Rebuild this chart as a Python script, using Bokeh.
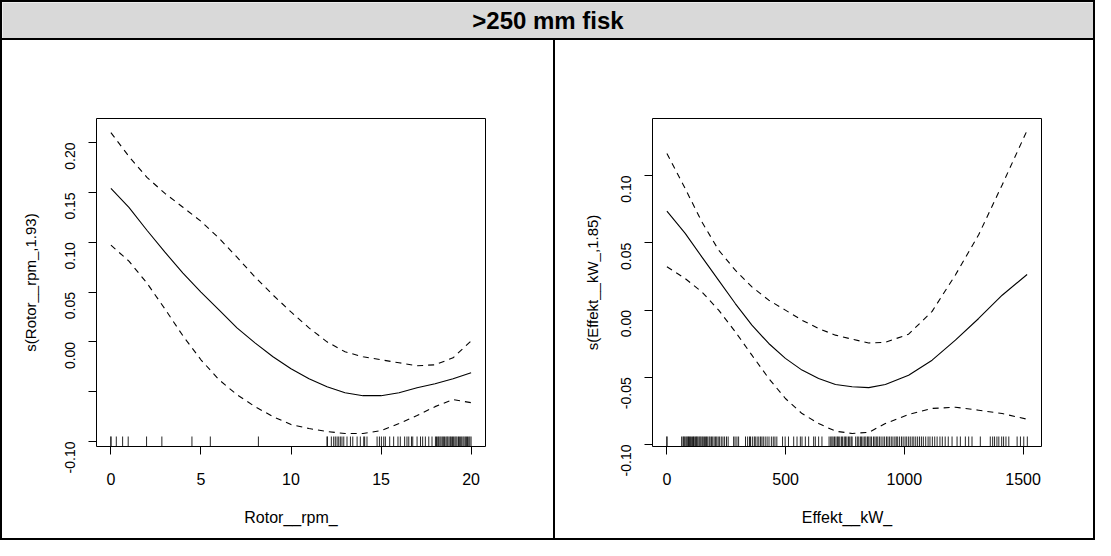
import math
from bokeh.plotting import figure
from bokeh.models import Range1d, FixedTicker, NumeralTickFormatter, Div
from bokeh.layouts import column, row
from bokeh.embed import file_html
from bokeh.resources import INLINE
from bokeh.core.properties import value

FONT = "Liberation Sans"

title_text = ">250 mm fisk"

# ---- left panel: Rotor__rpm_ ----
rotor_label_x = "Rotor__rpm_"
rotor_label_y = "s(Rotor__rpm_,1.93)"
rotor_x = [0, 1, 2, 3, 4, 5, 6, 7, 8, 9, 10, 11, 12, 13, 14, 15, 16, 17, 18, 19, 20]
rotor_fit = [0.154, 0.135, 0.112, 0.090, 0.069, 0.050, 0.032, 0.014, -0.001, -0.015,
             -0.027, -0.037, -0.045, -0.051, -0.054, -0.054, -0.051, -0.046, -0.042,
             -0.037, -0.031]
rotor_upper = [0.210, 0.186, 0.165, 0.149, 0.135, 0.121, 0.104, 0.085, 0.065, 0.047,
               0.030, 0.014, 0.000, -0.010, -0.015, -0.018, -0.021, -0.024, -0.023,
               -0.016, 0.001]
rotor_lower = [0.097, 0.081, 0.059, 0.033, 0.006, -0.018, -0.038, -0.053, -0.065,
               -0.075, -0.083, -0.087, -0.090, -0.092, -0.092, -0.089, -0.082, -0.074,
               -0.065, -0.058, -0.061]
rotor_rug = [0, 0, 0.3, 0.65, 0.96, 1.98, 2.83, 4.5, 5.52, 8.19,
             12.0, 12.02, 12.24, 12.37, 12.46, 12.56, 12.65, 12.74, 12.83, 12.93,
             13.11, 13.3, 13.43, 13.67, 13.85, 14.04, 14.09, 14.22, 14.78, 14.91,
             15.02, 15.15, 15.24, 15.48, 15.7, 15.94, 16.07, 16.31, 16.44, 16.54,
             16.69, 16.76, 17.0, 17.19, 17.31, 17.46, 17.65, 17.83, 18.02, 18.08,
             18.15, 18.2, 18.27, 18.33, 18.4, 18.46, 18.52, 18.6, 18.66, 18.71,
             18.78, 18.85, 18.9, 18.97, 19.03, 19.1, 19.16, 19.22, 19.3, 19.35,
             19.42, 19.48, 19.55, 19.61, 19.68, 19.74, 19.8, 19.87, 19.93, 20.0]
rotor_xticks = [0, 5, 10, 15, 20]
rotor_yticks = [-0.10, -0.05, 0.00, 0.05, 0.10, 0.15, 0.20]

# ---- right panel: Effekt__kW_ ----
effekt_label_x = "Effekt__kW_"
effekt_label_y = "s(Effekt__kW_,1.85)"
effekt_x = [0, 77, 147, 218, 288, 358, 429, 499, 569, 639, 710, 780, 850, 920,
            1018, 1117, 1215, 1313, 1412, 1517]
effekt_fit = [0.0735, 0.057, 0.0395, 0.022, 0.0048, -0.0113, -0.0249, -0.036,
              -0.0447, -0.051, -0.0554, -0.0571, -0.0577, -0.0554, -0.0485,
              -0.0373, -0.0224, -0.0063, 0.011, 0.0264]
effekt_upper = [0.1164, 0.0903, 0.0656, 0.0445, 0.0296, 0.0172, 0.0073, -0.0001,
                -0.0076, -0.0138, -0.0187, -0.0217, -0.0245, -0.0240, -0.0180,
                -0.0010, 0.0260, 0.0560, 0.0930, 0.1335]
effekt_lower = [0.0321, 0.0234, 0.0135, -0.0001, -0.0162, -0.0336, -0.0509, -0.0658,
                -0.077, -0.0844, -0.0901, -0.0918, -0.0910, -0.0844, -0.0777,
                -0.0732, -0.0723, -0.0745, -0.077, -0.0812]
effekt_rug = [0, 0, 62, 68, 71, 75, 80, 84, 88, 91, 95, 99, 103, 108, 112, 115, 120,
              124, 127, 131, 136, 140, 144, 149, 153, 158, 163, 167, 172, 178, 182,
              188, 193, 199, 205, 210, 216, 222, 229, 236, 243, 251, 258, 281, 287,
              295, 302, 331, 340, 348, 352, 360, 368, 372, 380, 387, 394, 400, 406,
              414, 422, 430, 440, 448, 455, 463, 487, 498, 512, 534, 548, 562, 569,
              583, 597, 618, 625, 639, 653, 683, 690, 695, 700, 706, 712, 718, 722,
              728, 735, 740, 747, 752, 758, 765, 770, 776, 780, 795, 802, 808, 815,
              820, 826, 833, 838, 845, 850, 856, 862, 870, 876, 882, 888, 895, 902,
              910, 917, 925, 931, 938, 945, 952, 960, 966, 972, 980, 988, 995, 1003,
              1010, 1018, 1025, 1033, 1040, 1048, 1056, 1064, 1072, 1080, 1090, 1100,
              1108, 1118, 1128, 1138, 1150, 1160, 1172, 1185, 1201, 1222, 1236, 1257,
              1271, 1285, 1320, 1362, 1372, 1380, 1390, 1398, 1410, 1418, 1428, 1440,
              1475, 1489, 1503, 1518]
effekt_xticks = [0, 500, 1000, 1500]
effekt_yticks = [-0.10, -0.05, 0.00, 0.05, 0.10]

PANEL_H = 498
BORDER = 2


def black_bar(w, h):
    return Div(text="", width=w, height=h, margin=(0, 0, 0, 0),
               styles={"background-color": "black"})


def make_panel(width, left, right, xr, yr, x, fit, upper, lower, rug,
               xticks, yticks, xlabel, ylabel, hide_labels=None):
    top, bottom = 78, 92
    p = figure(width=width, height=PANEL_H, x_range=Range1d(*xr), y_range=Range1d(*yr),
               output_backend="svg", toolbar_location=None,
               min_border_left=left, min_border_right=right,
               min_border_top=top, min_border_bottom=bottom)
    p.grid.visible = False
    p.outline_line_color = "black"
    p.outline_line_width = 1
    p.background_fill_color = "white"
    p.border_fill_color = "white"

    p.line(x, fit, line_color="black", line_width=1.1)
    p.line(x, upper, line_color="black", line_width=1.1, line_dash="6 5")
    p.line(x, lower, line_color="black", line_width=1.1, line_dash="6 5")

    frame_h = PANEL_H - top - bottom
    rug_len = (yr[1] - yr[0]) * 10.0 / frame_h
    n = len(rug)
    p.segment(x0=rug, x1=rug, y0=[yr[0]] * n, y1=[yr[0] + rug_len] * n,
              line_color="black", line_width=1, line_alpha=0.85)

    xa = p.xaxis[0]
    xa.ticker = FixedTicker(ticks=xticks)
    xa.axis_line_color = None
    xa.major_tick_out = 8
    xa.major_tick_in = 0
    xa.minor_tick_line_color = None
    xa.major_tick_line_color = "black"
    xa.major_label_text_font = FONT
    xa.major_label_text_font_size = "16px"
    xa.major_label_text_color = "black"
    xa.major_label_standoff = 18
    xa.axis_label = xlabel
    xa.axis_label_text_font = FONT
    xa.axis_label_text_font_size = "16px"
    xa.axis_label_text_font_style = "normal"
    xa.axis_label_text_color = "black"
    xa.axis_label_standoff = 21

    ya = p.yaxis[0]
    ya.ticker = FixedTicker(ticks=yticks)
    ya.formatter = NumeralTickFormatter(format="0.00")
    if hide_labels:
        ya.major_label_overrides = {v: " " for v in hide_labels}
    ya.axis_line_color = None
    ya.major_tick_out = 8
    ya.major_tick_in = 0
    ya.minor_tick_line_color = None
    ya.major_tick_line_color = "black"
    ya.major_label_orientation = math.pi / 2
    ya.major_label_text_font = FONT
    ya.major_label_text_font_size = "14px"
    ya.major_label_text_color = "black"
    ya.major_label_standoff = 18
    ya.axis_label = ylabel
    ya.axis_label_text_font = FONT
    ya.axis_label_text_font_size = "15px"
    ya.axis_label_text_font_style = "normal"
    ya.axis_label_text_color = "black"
    ya.axis_label_standoff = 13
    return p


left_w = 551
right_w = 538
total_w = BORDER + left_w + BORDER + right_w + BORDER

title_fig = figure(width=total_w - 2 * BORDER, height=36, x_range=Range1d(0, 1),
                   y_range=Range1d(0, 1), output_backend="svg", toolbar_location=None,
                   x_axis_location=None, y_axis_location=None, min_border=0)
title_fig.grid.visible = False
title_fig.outline_line_color = None
title_fig.background_fill_color = "#d9d9d9"
title_fig.border_fill_color = "#d9d9d9"
title_fig.text(x=[0.5], y=[0.5], text=[title_text], text_align="center",
               text_baseline="middle", text_font=value(FONT), text_font_size="24px",
               text_font_style="bold", text_color="black")

left = make_panel(left_w, 94, 68, (-0.8, 20.8), (-0.1050, 0.2241),
                  rotor_x, rotor_fit, rotor_upper, rotor_lower, rotor_rug,
                  rotor_xticks, rotor_yticks, rotor_label_x, rotor_label_y,
                  hide_labels=[-0.05])
right = make_panel(right_w, 97, 52, (-60.7, 1577.7), (-0.1015, 0.1424),
                   effekt_x, effekt_fit, effekt_upper, effekt_lower, effekt_rug,
                   effekt_xticks, effekt_yticks, effekt_label_x, effekt_label_y)

layout = column(
    black_bar(total_w, BORDER),
    row(black_bar(BORDER, 36), title_fig, black_bar(BORDER, 36)),
    black_bar(total_w, BORDER),
    row(black_bar(BORDER, PANEL_H), left, black_bar(BORDER, PANEL_H), right,
        black_bar(BORDER, PANEL_H)),
    black_bar(total_w, BORDER),
)

open("out.html", "w").write(file_html(layout, INLINE))
